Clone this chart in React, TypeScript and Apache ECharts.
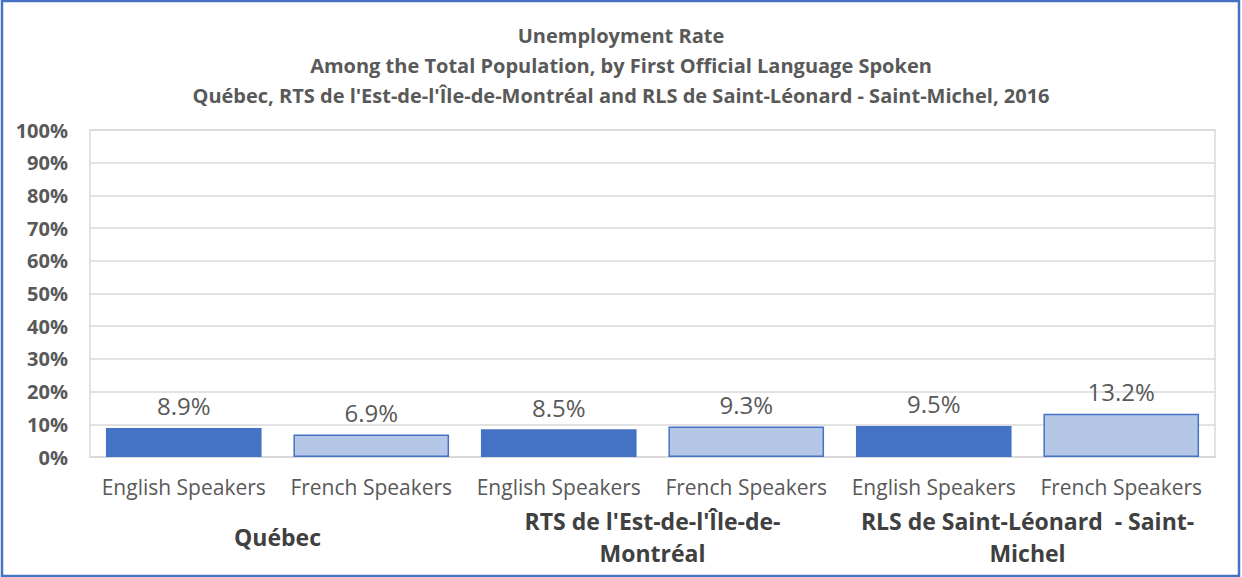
import React, { useEffect, useRef } from "react";
import * as echarts from "echarts";

const titleLines = [
  "Unemployment Rate",
  "Among the Total Population, by First Official Language Spoken",
  "Québec, RTS de l'Est-de-l'Île-de-Montréal and RLS de Saint-Léonard - Saint-Michel, 2016",
];
const groups = ["Québec", "RTS de l'Est-de-l'Île-de-Montréal", "RLS de Saint-Léonard  - Saint-Michel"];
const groupLabelLines: Record<string, string> = {
  "Québec": "Québec",
  "RTS de l'Est-de-l'Île-de-Montréal": "RTS de l'Est-de-l'Île-de-\nMontréal",
  "RLS de Saint-Léonard  - Saint-Michel": "RLS de Saint-Léonard  - Saint-\nMichel",
};
const subCategories = [
  "English Speakers",
  "French Speakers",
  "English Speakers",
  "French Speakers",
  "English Speakers",
  "French Speakers",
];
const values = [8.9, 6.9, 8.5, 9.3, 9.5, 13.2];
const yTicks = { min: 0, max: 100, interval: 10 };

const FONT = "'Open Sans', 'Noto Sans', sans-serif";

export default function App() {
  const ref = useRef<HTMLDivElement>(null);
  useEffect(() => {
    if (!ref.current) return;
    const chart = echarts.init(ref.current, undefined, { renderer: "svg" });
    const data = values.map((v, i) => {
      const english = subCategories[i].startsWith("English");
      return {
        value: v,
        itemStyle: english
          ? { color: "#4472C4", borderColor: "#4472C4", borderWidth: 0 }
          : { color: "#B4C7E7", borderColor: "#4472C4", borderWidth: 1.5 },
      };
    });
    chart.setOption({
      animation: false,
      backgroundColor: "#FFFFFF",
      title: {
        text: titleLines.join("\n"),
        left: "center",
        top: 15,
        textStyle: {
          fontFamily: FONT,
          fontSize: 20,
          fontWeight: "bold",
          color: "#595959",
          lineHeight: 30,
        },
      },
      graphic: [
        {
          type: "rect",
          shape: { x: 2, y: 1, width: 1237, height: 575 },
          style: { fill: "none", stroke: "#4472C4", lineWidth: 2.5 },
          silent: true,
        },
      ],
      grid: {
        left: 90,
        right: 27,
        top: 130,
        bottom: 120,
        show: true,
        borderColor: "#D9D9D9",
        borderWidth: 1.5,
      },
      xAxis: [
        {
          type: "category",
          data: subCategories,
          position: "bottom",
          axisLine: { show: true, lineStyle: { color: "#D9D9D9", width: 1.5 } },
          axisTick: { show: false },
          axisLabel: {
            interval: 0,
            margin: 19,
            fontFamily: FONT,
            fontSize: 21,
            color: "#595959",
          },
        },
        {
          type: "category",
          data: groups,
          position: "bottom",
          offset: 80,
          axisLine: { show: false },
          axisTick: { show: false },
          axisLabel: {
            interval: 0,
            margin: 0,
            verticalAlign: "middle",
            fontFamily: FONT,
            fontSize: 23,
            fontWeight: "bold",
            color: "#404040",
            lineHeight: 32,
            formatter: (v: string) => groupLabelLines[v] ?? v,
          },
        },
      ],
      yAxis: {
        type: "value",
        min: yTicks.min,
        max: yTicks.max,
        interval: yTicks.interval,
        axisLine: { show: false },
        axisTick: { show: false },
        splitLine: { lineStyle: { color: "#D9D9D9", width: 1.5 } },
        axisLabel: {
          margin: 22,
          fontFamily: FONT,
          fontSize: 20,
          fontWeight: "bold",
          color: "#595959",
          formatter: "{value}%",
        },
      },
      series: [
        {
          type: "bar",
          xAxisIndex: 0,
          data,
          barWidth: "83%",
          label: {
            show: true,
            position: "top",
            distance: 10,
            fontFamily: FONT,
            fontSize: 24,
            color: "#595959",
            formatter: (p: any) => p.value.toFixed(1) + "%",
          },
        },
      ],
    });
    return () => chart.dispose();
  }, []);
  return (
    <div
      ref={ref}
      style={{ position: "fixed", left: 0, top: 0, width: 1242, height: 577 }}
    />
  );
}
